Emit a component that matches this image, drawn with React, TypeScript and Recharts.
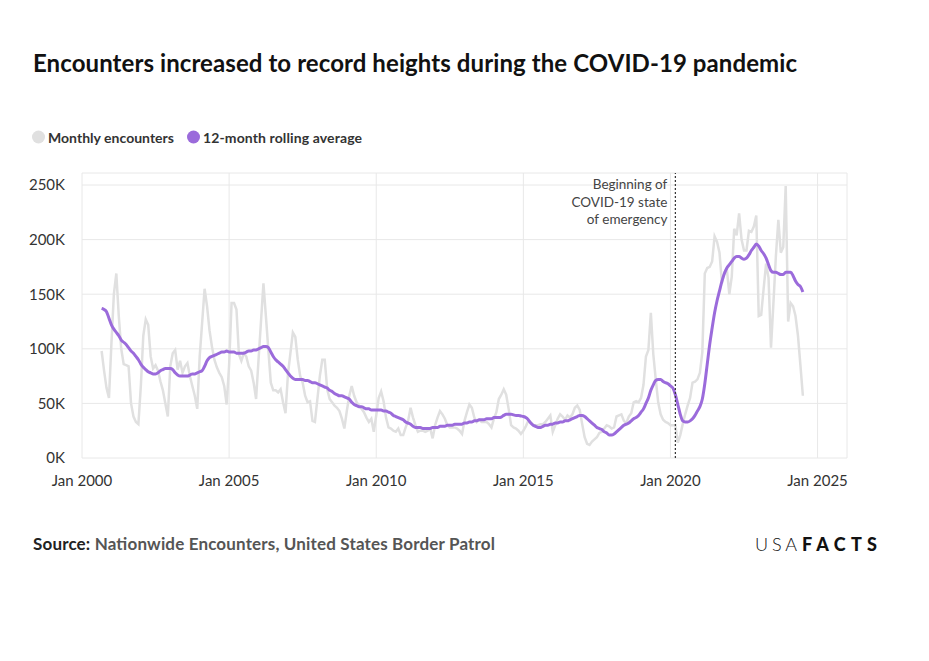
import { CartesianGrid, Line, LineChart, ReferenceLine, XAxis, YAxis } from "recharts";

// Border Patrol encounters, thousands per month, Sep 2000 .. Jul 2024
const START_YEAR = 2000;
const START_MONTH = 8; // September, 0-based

const MONTHLY = [
  98, 80, 64, 55,
  105, 150, 169, 130, 100, 86, 85, 84, 50, 38, 33, 31,
  66, 112, 127, 122, 93, 82, 85, 80, 70, 62, 50, 38,
  84, 96, 99, 81, 89, 78, 84, 87, 75, 66, 57, 45,
  93, 124, 155, 139, 117, 102, 90, 83, 78, 74, 66, 49,
  85, 142, 142, 136, 95, 89, 96, 93, 84, 80, 69, 54,
  90, 125, 160, 130, 99, 69, 62, 62, 60, 63, 51, 41,
  77, 96, 115, 111, 90, 75, 69, 57, 51, 52, 34, 33,
  54, 75, 90, 90, 63, 54, 51, 48, 46, 43, 36, 27,
  43, 57, 66, 57, 51, 48, 45, 42, 37, 33, 36, 24,
  39, 55, 61, 52, 37, 28, 27, 25, 24, 27, 21, 21,
  28, 34, 46, 37, 30, 24, 25, 25, 24, 25, 27, 18,
  30, 37, 43, 40, 36, 30, 28, 28, 28, 27, 25, 22,
  34, 42, 49, 46, 37, 33, 35, 33, 33, 33, 31, 28,
  36, 42, 54, 58, 63, 58, 45, 30, 28, 27, 25, 22,
  25, 29, 34, 33, 30, 30, 30, 31, 31, 33, 36, 39,
  24, 30, 36, 40, 38, 35, 39, 37, 40, 46, 48, 44,
  31, 19, 13, 12, 15, 17, 19, 23, 24, 27, 30, 29,
  27, 28, 38, 39, 40, 34, 32, 38, 41, 51, 52, 51,
  55, 67, 93, 99, 133, 95, 72, 51, 40, 35, 33, 32,
  30, 30, 30, 14, 21, 31, 40, 48, 55, 69, 70, 72,
  78, 97, 169, 174, 175, 180, 203, 198, 188, 160, 170, 173,
  150, 166, 210, 204, 224, 200, 190, 190, 208, 207, 212, 222,
  130, 131, 155, 178, 165, 101, 142, 185, 218, 188, 193, 249,
  125, 142, 139, 130, 112, 85, 57,
];

const ROLLING = [
  137, 136, 134, 128,
  122, 118, 115, 112, 108, 106, 104, 101, 98, 96, 93, 90,
  86, 83, 81, 79, 78, 77, 77, 78, 80, 81, 82, 82,
  82, 81, 78, 76, 75, 75, 75, 75, 76, 77, 77, 78,
  79, 80, 84, 89, 92, 93, 94, 95, 96, 97, 97, 98,
  97, 97, 97, 96, 96, 96, 96, 97, 98, 98, 99, 99,
  100, 101, 102, 102, 101, 97, 93, 90, 88, 86, 84, 81,
  78, 75, 73, 72, 72, 72, 72, 71, 71, 70, 69, 69,
  68, 67, 66, 65, 64, 62, 61, 59, 58, 57, 57, 56,
  55, 54, 51, 49, 48, 47, 47, 46, 45, 45, 44, 44,
  44, 44, 44, 43, 43, 42, 41, 39, 38, 37, 36, 35,
  33, 32, 31, 29, 28, 28, 28, 27, 27, 27, 27, 28,
  28, 28, 29, 29, 29, 30, 30, 30, 31, 31, 31, 31,
  32, 32, 33, 33, 34, 34, 35, 35, 35, 36, 36, 36,
  37, 37, 37, 37.5, 39, 40, 40, 40, 39.5, 39, 39, 38.5,
  38, 37, 35, 32, 30, 29, 28, 28, 29, 30, 30, 31,
  31, 32, 32, 33, 33, 34, 34, 35, 36, 37, 38, 39,
  39, 38, 36, 34, 32, 30, 28, 27, 26, 24, 23, 21,
  21, 22, 24, 26, 28, 30, 31, 32, 34, 36, 37, 39,
  42, 45, 50, 55, 62, 67, 71, 72, 72, 70, 69, 68,
  66, 64, 58, 49, 40, 34, 33, 33, 34, 36, 39, 43,
  47, 54, 68, 86, 104, 119, 133, 144, 153, 162, 169, 174,
  177, 180, 183, 184.5, 184.5, 183, 182, 183, 186, 190, 193, 196,
  194, 190, 187, 183, 177, 171.5, 170, 170, 169, 168, 168, 170,
  170, 170, 167, 162, 159, 157, 152,
];

const Y_TICKS = [0, 50, 100, 150, 200, 250];
const X_TICKS = [2000, 2005, 2010, 2015, 2020, 2025];
const COVID_START = 2020 + 2 / 12;
const COVID_NOTE = ["Beginning of", "COVID-19 state", "of emergency"];

const GRAY = "#e0e0e0";
const PURPLE = "#9b6bdb";
const FONT = "Lato, 'Open Sans', sans-serif";

const data = MONTHLY.map((v, i) => ({
  t: START_YEAR + (START_MONTH + i) / 12,
  monthly: v,
  rolling: ROLLING[i],
}));

function CovidNote(props: any) {
  const vb = props.viewBox || {};
  const x = vb.x - 8;
  return (
    <text x={x} y={vb.y + 16} textAnchor="end" fontSize={13.5} fill="#444" fontFamily={FONT}>
      {COVID_NOTE.map((line, i) => (
        <tspan key={line} x={x} dy={i === 0 ? 0 : 17.5}>
          {line}
        </tspan>
      ))}
    </text>
  );
}

export default function App() {
  return (
    <div style={{ position: "absolute", left: 0, top: 0, width: 929, height: 661, background: "#fff", fontFamily: FONT }}>
      <svg width={929} height={661} style={{ position: "absolute", left: 0, top: 0 }}>
        <text x={33} y={72} fontSize={24} fontWeight={700} fill="#111" textLength={764} lengthAdjust="spacing">
          Encounters increased to record heights during the COVID-19 pandemic
        </text>
        <circle cx={38.5} cy={137} r={6.5} fill={GRAY} />
        <text x={48} y={142.5} fontSize={14} fontWeight={700} fill="#333" textLength={126} lengthAdjust="spacing">
          Monthly encounters
        </text>
        <circle cx={193.5} cy={137} r={6.5} fill={PURPLE} />
        <text x={203} y={142.5} fontSize={14} fontWeight={700} fill="#333" textLength={159} lengthAdjust="spacing">
          12-month rolling average
        </text>
        <text x={33} y={550} fontSize={17} fontWeight={700} textLength={462} lengthAdjust="spacing">
          <tspan fill="#222">Source: </tspan>
          <tspan fill="#555">Nationwide Encounters, United States Border Patrol</tspan>
        </text>
        <text x={755} y={551} fontSize={18} fontWeight={300} fill="#111" textLength={42} lengthAdjust="spacing">
          USA
        </text>
        <text x={802} y={551} fontSize={18} fontWeight={900} fill="#111" textLength={75} lengthAdjust="spacing">
          FACTS
        </text>
      </svg>
      <div style={{ position: "absolute", left: 0, top: 0 }}>
        <LineChart width={929} height={661} data={data} margin={{ top: 173, right: 82, left: 22, bottom: 173 }}>
          <CartesianGrid stroke="#e8e8e8" />
          <XAxis
            dataKey="t"
            type="number"
            domain={[2000, 2026]}
            ticks={X_TICKS}
            tickFormatter={(v) => `Jan ${v}`}
            axisLine={false}
            tickLine={false}
            tickMargin={11}
            height={30}
            tick={{ fill: "#333", fontSize: 15 }}
          />
          <YAxis
            type="number"
            domain={[0, 261]}
            ticks={Y_TICKS}
            tickFormatter={(v) => `${v}K`}
            axisLine={false}
            tickLine={false}
            tickMargin={11}
            width={60}
            tick={{ fill: "#333", fontSize: 15 }}
          />
          <Line type="linear" dataKey="monthly" stroke={GRAY} strokeWidth={2.5} dot={false} isAnimationActive={false} />
          <Line type="monotone" dataKey="rolling" stroke={PURPLE} strokeWidth={3} dot={false} isAnimationActive={false} />
          <ReferenceLine x={COVID_START} stroke="#333" strokeWidth={1.2} strokeDasharray="2 2" label={<CovidNote />} />
        </LineChart>
      </div>
    </div>
  );
}
